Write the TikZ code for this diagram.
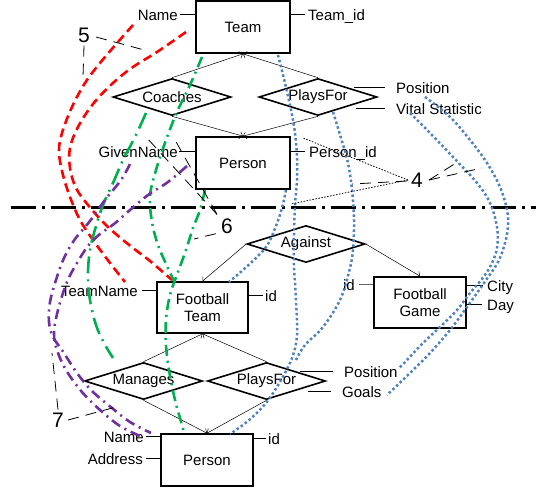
\documentclass[tikz,border=0pt]{standalone}
\usepackage{fontspec}
\setmainfont{Liberation Sans}
\usetikzlibrary{shapes.geometric,arrows.meta}
\definecolor{mapred}{RGB}{255,0,0}
\definecolor{mapgreen}{RGB}{0,176,80}
\definecolor{mappurple}{RGB}{112,48,160}
\definecolor{mapblue}{RGB}{79,129,189}
\begin{document}
\begin{tikzpicture}[x=1pt,y=-1pt,
  font=\fontsize{15}{17}\selectfont,
  entity/.style={draw,line width=1.7pt,inner sep=0pt,align=center},
  rel/.style={draw,diamond,line width=1.6pt,shape aspect=3.2,minimum width=118pt,minimum height=37pt,inner sep=0pt},
  attr/.style={inner sep=0pt,text height=11pt,text depth=0pt},
  attrline/.style={line width=0.9pt},
  isa/.style={line width=0.5pt,-{Straight Barb[length=3pt,width=7pt]}},
  num/.style={font=\fontsize{21}{21}\selectfont,inner sep=0pt},
  lbl/.style={line width=0.8pt,dash pattern=on 11pt off 7pt},
  lbldot/.style={line width=0.8pt,dash pattern=on 1.5pt off 1.5pt},
  redmap/.style={mapred,line width=2.6pt,dash pattern=on 9pt off 5pt},
  greenmap/.style={mapgreen,line width=2.6pt,dash pattern=on 11pt off 5pt on 2pt off 5pt},
  greenlong/.style={mapgreen,line width=2.6pt,dash pattern=on 17pt off 6pt on 2pt off 6pt},
  purplemap/.style={mappurple,line width=2.6pt,dash pattern=on 10pt off 5pt on 2pt off 5pt},
  bluemap/.style={mapblue,line width=2.5pt,dash pattern=on 2.5pt off 2.5pt},
  curve/.style={smooth,tension=0.6}
]
\useasboundingbox (0,0) rectangle (536,488);

% ---------- upper schema ----------
\node[entity,minimum width=94pt,minimum height=52pt] (team) at (243,27) {Team};
\node[entity,minimum width=94pt,minimum height=52pt] (person) at (243,163) {Person};
\node[rel] (coaches) at (172,97) {Coaches};
\node[rel] (plays) at (318,97) {PlaysFor};

\node[attr,anchor=east] (tname) at (178,14.5) {Name};
\node[attr,anchor=west] (tid) at (308,14.5) {Team\_id};
\node[attr,anchor=east] (gname) at (178,151.5) {GivenName};
\node[attr,anchor=west] (pid) at (309,151.5) {Person\_id};
\node[attr,anchor=west] (pos) at (396,87.5) {Position};
\node[attr,anchor=west] (vital) at (396,108.5) {Vital Statistic};

\draw[attrline] ([xshift=2pt]tname.east) -- (tname.east -| team.west);
\draw[attrline] (tid.west -| team.east) -- ([xshift=-3pt]tid.west);
\draw[attrline] ([xshift=1pt]gname.east) -- (gname.east -| person.west);
\draw[attrline] (pid.west -| person.east) -- ([xshift=-4pt]pid.west);
\draw[attrline] ([xshift=-24pt]pos.west -| plays.east) -- ([xshift=-11pt]pos.west);
\draw[attrline] ([xshift=-22pt]vital.west -| plays.east) -- ([xshift=-11pt]vital.west);

\draw[isa] (coaches.north) -- (team.south);
\draw[isa] (plays.north) -- (team.south);
\draw[isa] (coaches.south) -- (person.north);
\draw[isa] (plays.south) -- (person.north);

% ---------- separator ----------
\coordinate (sepL) at (11,207);
\coordinate (sepR) at (536,207);
\draw[line width=3pt,dash pattern=on 25pt off 6pt on 3pt off 6pt] (sepL) -- (sepR);

% ---------- lower schema ----------
\node[entity,minimum width=91pt,minimum height=51pt] (fteam) at (202.5,307.5) {Football\\Team};
\node[entity,minimum width=92pt,minimum height=51pt] (fgame) at (420,302.5) {Football\\Game};
\node[entity,minimum width=92pt,minimum height=52pt] (person2) at (207,460) {Person};
\node[rel] (against) at (306,244) {Against};
\node[rel] (manages) at (143.5,381) {Manages};
\node[rel] (plays2) at (266.5,381) {PlaysFor};

\node[attr,anchor=east] (tmname) at (138,290.5) {TeamName};
\node[attr,anchor=west] (ftid) at (265,295.5) {id};
\node[attr,anchor=east] (fgid) at (355,284.5) {id};
\node[attr,anchor=west] (city) at (487,285.5) {City};
\node[attr,anchor=west] (day) at (487,304.5) {Day};
\node[attr,anchor=west] (pos2) at (344,371.5) {Position};
\node[attr,anchor=west] (goals) at (342,391.5) {Goals};
\node[attr,anchor=east] (pname) at (144,436.5) {Name};
\node[attr,anchor=east] (paddr) at (143,458.5) {Address};
\node[attr,anchor=west] (pid2) at (268,438.5) {id};

\draw[attrline] ([xshift=4pt]tmname.east) -- (tmname.east -| fteam.west);
\draw[attrline] (ftid.west -| fteam.east) -- ([xshift=-2pt]ftid.west);
\draw[attrline,draw=black!60,line width=1.2pt] ([xshift=4pt]fgid.east) -- (fgid.east -| fgame.west);
\draw[attrline] (city.west -| fgame.east) -- ([xshift=-4pt]city.west);
\draw[attrline] (day.west -| fgame.east) -- ([xshift=-5pt]day.west);
\draw[attrline] ([xshift=-26pt]pos2.west -| plays2.east) -- ([xshift=-11pt]pos2.west);
\draw[attrline] ([xshift=-18pt]goals.west -| plays2.east) -- ([xshift=-11pt]goals.west);
\draw[attrline] ([xshift=2pt]pname.east) -- (pname.east -| person2.west);
\draw[attrline] ([xshift=3pt]paddr.east) -- (paddr.east -| person2.west);
\draw[attrline] (pid2.west -| person2.east) -- ([xshift=-2pt]pid2.west);

\draw[isa] (against.west) -- (fteam.north);
\draw[isa] (against.east) -- (fgame.north);
\draw[isa] (manages.north) -- (fteam.south);
\draw[isa] (plays2.north) -- (fteam.south);
\draw[isa] (manages.south) -- (person2.north);
\draw[isa] (plays2.south) -- (person2.north);

% ---------- correspondences ----------
% set 5 (red)
\draw[redmap] plot[curve] coordinates {(133,25) (118,42) (100,63) (85,83) (72,107) (62,133) (59,152) (63,175) (70,197) (80,220) (93,240) (110,263) (125,282)};
\draw[redmap] plot[curve] coordinates {(186,32) (157,52) (133,67) (113,83) (93,104) (78,127) (70,148) (70,168) (76,188) (88,205) (103,222) (117,235) (133,248) (150,261) (172,280)};
% set 6 (green)
\draw[greenmap] plot[curve] coordinates {(202,57) (190,85) (177,112) (166,140) (156,170) (150,196) (152,222) (158,245) (167,266) (174,281)};
\draw[greenmap] plot[curve] coordinates {(205,190) (200,210) (193,228) (186,250) (178,272) (170,295) (166,320) (166,345) (169,370) (175,400) (180,418) (184,432)};
\draw[greenlong] plot[curve] coordinates {(146,113) (135,137) (123,160) (113,183) (103,205) (96,226) (90,250) (88,275) (90,300) (96,325) (104,343) (113,358)};
% set 7 (purple)
\draw[purplemap] plot[curve] coordinates {(130,164) (121,180) (105,200) (90,221) (75,239) (64,258) (56,280) (50,302) (49,322) (53,337) (62,350) (77,373) (92,391) (112,408) (130,422) (151,433)};
\draw[purplemap] plot[curve] coordinates {(187,166) (168,182) (148,195) (130,210) (114,224) (100,234) (88,246) (77,263) (67,282) (58,310) (54,333) (57,350) (66,370) (82,392) (100,410) (120,426) (140,436)};
% set 4 (blue)
\draw[bluemap] plot[curve] coordinates {(278,55) (285,83) (291,110) (295,133) (297,157) (297,180) (295,205) (294,235) (294,265) (296,300) (297,335) (292,358) (281,380) (266,403) (248,421) (230,434)};
\draw[bluemap] plot[curve] coordinates {(286,190) (282,208) (276,226) (268,244) (258,256) (243,270) (229,282)};
\draw[bluemap] plot[curve] coordinates {(333,112) (341,138) (348,163) (352,190) (354,220) (353,250) (349,272) (340,300) (323,327) (305,345) (296,360)};
\draw[bluemap] plot[curve] coordinates {(425,97) (450,117) (470,140) (487,163) (500,187) (507,210) (508,226) (505,243) (498,262) (484,283) (467,307) (450,330) (430,353) (410,373) (387,395)};
\draw[bluemap] plot[curve] coordinates {(410,113) (430,133) (453,157) (477,183) (490,203) (497,227) (497,248) (491,265) (482,279) (470,293) (457,310) (440,327) (423,343) (407,360) (399,368)};

% ---------- set labels ----------
\node[num] (n5) at (84,35) {5};
\node[num] (n4) at (417,180) {4};
\node[num] (n6) at (227,226) {6};
\node[num] (n7) at (58,420) {7};

\coordinate (p5a) at (148,51);
\coordinate (p5b) at (83,77);
\draw[lbl] ([xshift=6pt,yshift=-2pt]n5.east) -- (p5a);
\draw[lbl] ([yshift=-3pt]n5.south) -- (p5b);

\coordinate (p4a) at (303,138);
\coordinate (p4b) at (291,204);
\coordinate (p4c) at (352,184);
\coordinate (p4d) at (456,163);
\coordinate (p4e) at (482,168);
\draw[lbldot] ([xshift=-3pt]n4.west) -- (p4a);
\draw[lbldot] ([xshift=-3pt]n4.west) -- (p4b);
\draw[lbl] ([xshift=-4pt,yshift=-1pt]n4.west) -- (p4c);
\draw[lbl] ([xshift=6pt]n4.east) -- (p4d);
\draw[lbl] ([xshift=6pt]n4.east) -- (p4e);

\coordinate (p6a) at (146,137);
\coordinate (p6b) at (175,140);
\coordinate (p6c) at (194,239);
\draw[lbl] ([xshift=-10pt,yshift=4pt]n6.north) -- (p6a);
\draw[lbl] ([xshift=-10pt,yshift=4pt]n6.north) -- (p6b);
\draw[lbl] ([xshift=-5pt]n6.south west) -- (p6c);

\coordinate (p7a) at (52,353);
\coordinate (p7b) at (116,407);
\draw[lbl] ([yshift=3pt]n7.north) -- (p7a);
\draw[lbl] ([xshift=4pt]n7.east) -- (p7b);
\end{tikzpicture}
\end{document}
